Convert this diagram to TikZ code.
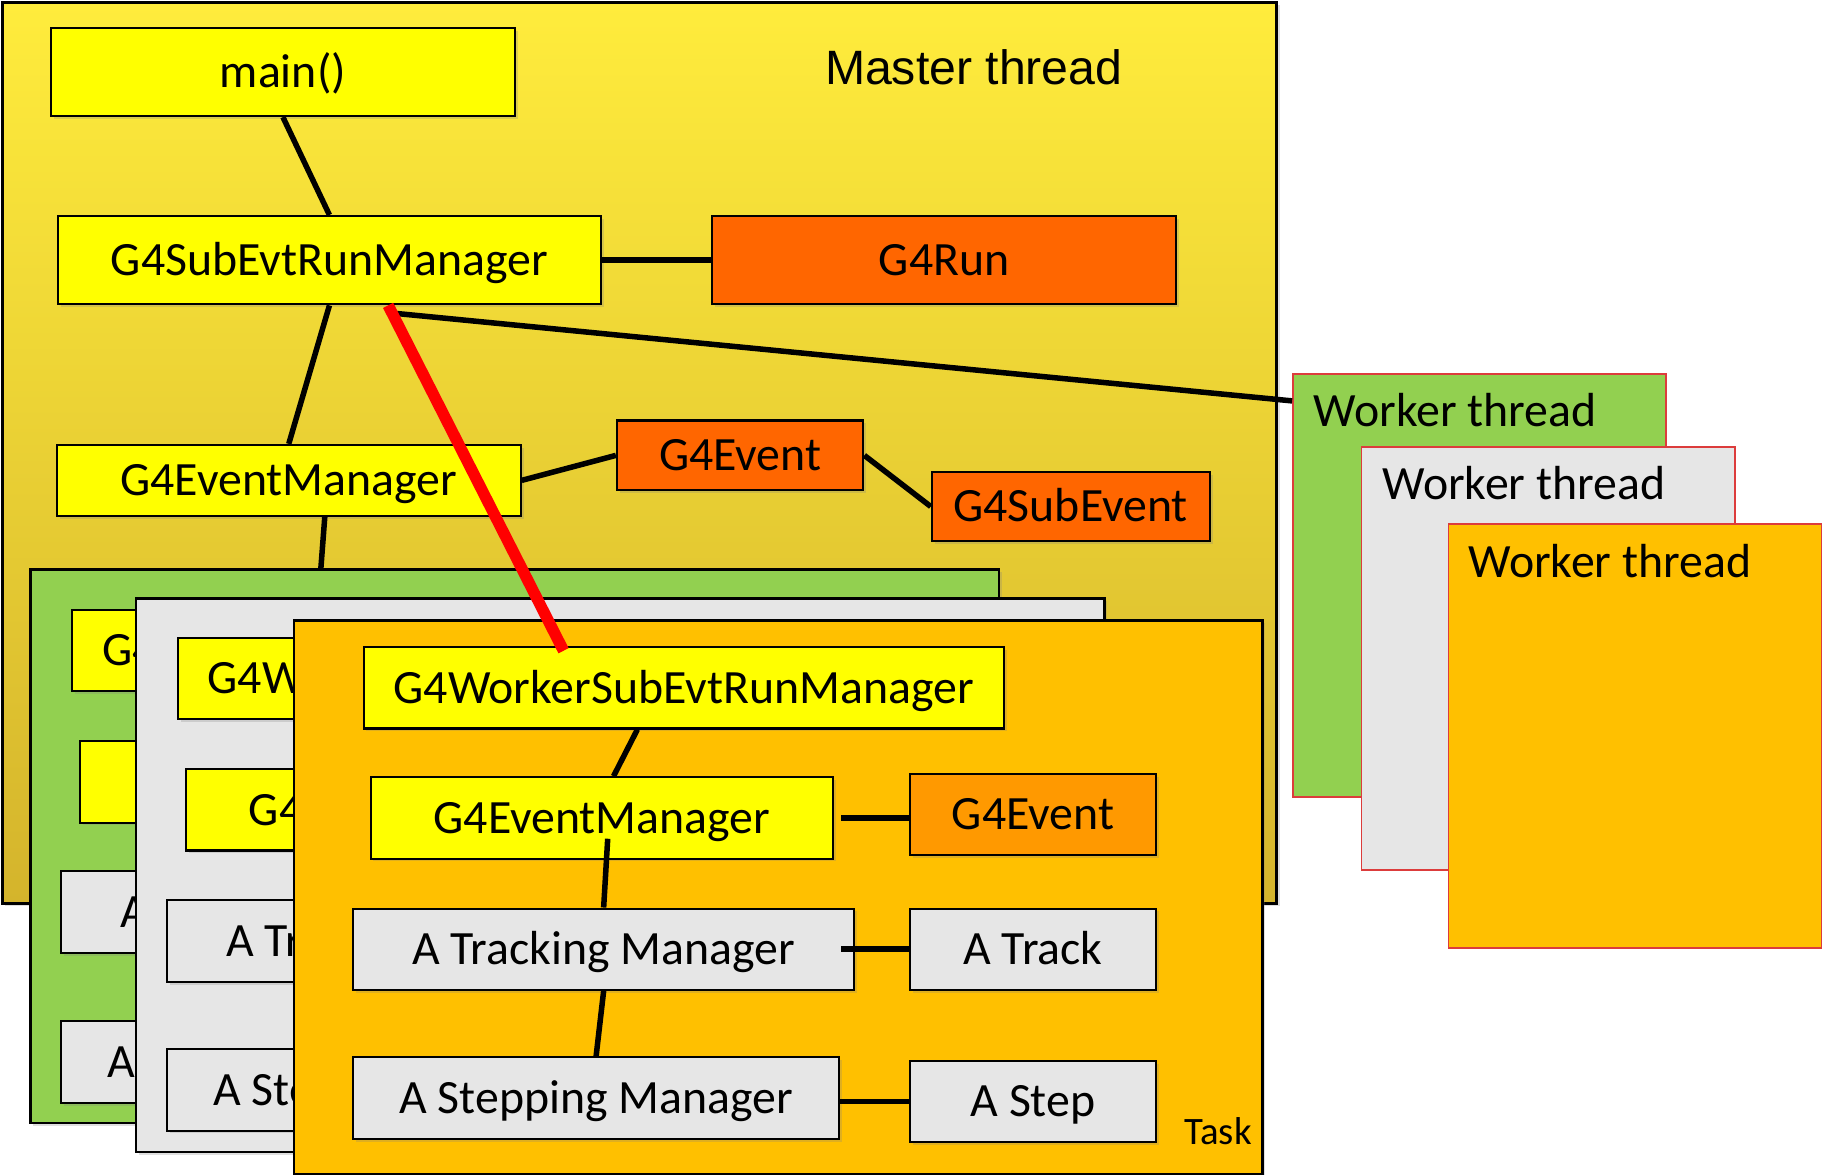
\documentclass[tikz,border=0pt]{standalone}
\usepackage{fontspec}
\setmainfont{Carlito}
\newfontfamily\headfont{Liberation Sans}
\usetikzlibrary{positioning, calc, shadows}

\definecolor{clsyellow}{HTML}{FFFF00}
\definecolor{runorange}{HTML}{FF6600}
\definecolor{evtorange}{HTML}{FF9900}
\definecolor{taskorange}{HTML}{FFC000}
\definecolor{taskgreen}{HTML}{92D050}
\definecolor{taskgray}{HTML}{E6E6E6}
\definecolor{mastertop}{RGB}{255,236,60}
\definecolor{masterbot}{RGB}{212,180,44}
\definecolor{workerline}{RGB}{220,60,60}

\begin{document}
\begin{tikzpicture}[
    x=0.01cm, y=-0.01cm,
    every node/.style={inner sep=0pt},
    softshadow/.style={drop shadow={shadow xshift=0.7pt, shadow yshift=-0.7pt, opacity=0.25}},
    box/.style={rectangle, draw, line width=0.5pt, softshadow,
                minimum height=0.70cm, text height=7.5pt, text depth=0pt,
                font=\fontsize{11.7}{14}\selectfont},
    cls/.style={box, fill=clsyellow},
    obj/.style={box, fill=runorange},
    trk/.style={box, fill=taskgray},
    frame/.style={rectangle, draw, line width=0.6pt, softshadow, anchor=north west},
    taskframe/.style={frame, minimum width=8.33cm, minimum height=4.76cm},
    worker/.style={rectangle, draw=workerline, line width=0.4pt, anchor=north west,
                   minimum width=3.21cm, minimum height=3.64cm},
    title/.style={font=\fontsize{11.7}{14}\selectfont, anchor=base west},
    link/.style={line width=1.35pt},
]
\path[use as bounding box, fill=white] (0,0) rectangle (1568,1011);

% Master thread
\node[frame, minimum width=10.96cm, minimum height=7.75cm,
      top color=mastertop, bottom color=masterbot] (master) at (1,1) {};
\node[font=\headfont\fontsize{11.8}{14}\selectfont] (mastertitle) at (838,58) {Master thread};

\node[cls, anchor=north west, minimum width=3.99cm, minimum height=0.76cm] (main) at (43,23) {main()};
\node[cls, anchor=north west, minimum width=4.67cm, minimum height=0.76cm] (subrun) at (49,185) {G4SubEvtRunManager};
\node[obj, right=0.94cm of subrun, minimum width=3.99cm, minimum height=0.76cm] (run) {G4Run};
\node[cls, anchor=north west, minimum width=3.99cm, minimum height=0.61cm] (mevm) at (48,382) {G4EventManager};
\node[obj, anchor=north west, minimum width=2.12cm, minimum height=0.60cm] (mev) at (530,361) {G4Event};
\node[obj, anchor=north west, minimum width=2.39cm, minimum height=0.60cm] (subev) at (801,405) {G4SubEvent};

\draw[link] (main.south) -- (subrun.north);
\draw[link] (subrun.south) -- (mevm.north);
\draw[link] (subrun) -- (run);
\draw[link] (mevm.east) -- (mev.west);
\draw[link] (mev.east) -- (subev.west);

% Worker threads
\node[worker, fill=taskgreen] (wt1) at (1112,321) {};
\node[title] (wt1title) at (1130,367) {Worker thread};
\node[worker, fill=taskgray] (wt2) at (1171,384) {};
\node[title] (wt2title) at (1189,430) {Worker thread};
\node[worker, fill=taskorange, minimum height=3.65cm] (wt3) at (1246,450) {};
\node[title] (wt3title) at (1263,497) {Worker thread};

\draw[link] ([xshift=0.58cm, yshift=-0.07cm]subrun.south) -- ($(wt1.north west)+(0,24)$);

% Task 1 (back)
\node[taskframe, fill=taskgreen] (task1) at (25,489) {};
\draw[link] ([xshift=0.31cm]mevm.south) -- ([xshift=2.51cm]task1.north west);
\node[cls, anchor=north west, minimum width=5.51cm] (wsr1) at (61,524) {G4WorkerSubEvtRunManager};
\node[cls, anchor=north west, minimum width=3.98cm] (evm1) at (68,637) {G4EventManager};
\node[trk, anchor=north west, minimum width=4.31cm] (trk1) at (52,749) {A Tracking Manager};
\node[trk, anchor=north west, minimum width=4.18cm] (stp1) at (52,878) {A Stepping Manager};

% Task 2
\node[taskframe, fill=taskgray] (task2) at (116,514) {};
\node[cls, anchor=north west, minimum width=5.51cm] (wsr2) at (152,548) {G4WorkerSubEvtRunManager};
\node[cls, anchor=north west, minimum width=3.98cm] (evm2) at (159,661) {G4EventManager};
\node[trk, anchor=north west, minimum width=4.31cm] (trk2) at (143,774) {A Tracking Manager};
\node[trk, anchor=north west, minimum width=4.18cm] (stp2) at (143,902) {A Stepping Manager};

% Task 3 (front)
\node[taskframe, fill=taskorange] (task3) at (252,533) {};
\node[cls, anchor=north west, minimum width=5.51cm] (wsr) at (312,556) {G4WorkerSubEvtRunManager};
\node[cls, anchor=north west, minimum width=3.98cm] (evm) at (318,668) {G4EventManager};
\node[obj, fill=evtorange, right=0.64cm of evm, minimum width=2.12cm, yshift=0.03cm] (ev) {G4Event};
\node[trk, anchor=north west, minimum width=4.31cm] (trkm) at (303,781) {A Tracking Manager};
\node[trk, right=0.46cm of trkm, minimum width=2.12cm] (track) {A Track};
\node[trk, anchor=north west, minimum width=4.18cm] (stpm) at (303,909) {A Stepping Manager};
\node[trk, right=0.59cm of stpm, minimum width=2.12cm, yshift=-0.03cm] (step) {A Step};
\node[font=\fontsize{9.5}{11}\selectfont, anchor=base east] (tasklabel) at (1078,985) {Task};

\draw[link] ([xshift=-0.40cm]wsr.south) -- ([xshift=0.10cm]evm.north);
\draw[link] ([xshift=0.05cm, yshift=0.18cm]evm.south) -- (trkm.north);
\draw[link] (trkm.south) -- (stpm.north);
\draw[link] ([xshift=0.06cm]evm.east) -- (evm.east -| ev.west);
\draw[link] ([xshift=-0.12cm]trkm.east) -- (track.west);
\draw[link] ([yshift=-0.03cm]stpm.east) -- (step.west);

% master run manager hands sub-events to the worker
\draw[line width=2.8pt, red] ([xshift=0.505cm]subrun.south) -- ([xshift=-1.035cm, yshift=-0.04cm]wsr.north);
\end{tikzpicture}
\end{document}
